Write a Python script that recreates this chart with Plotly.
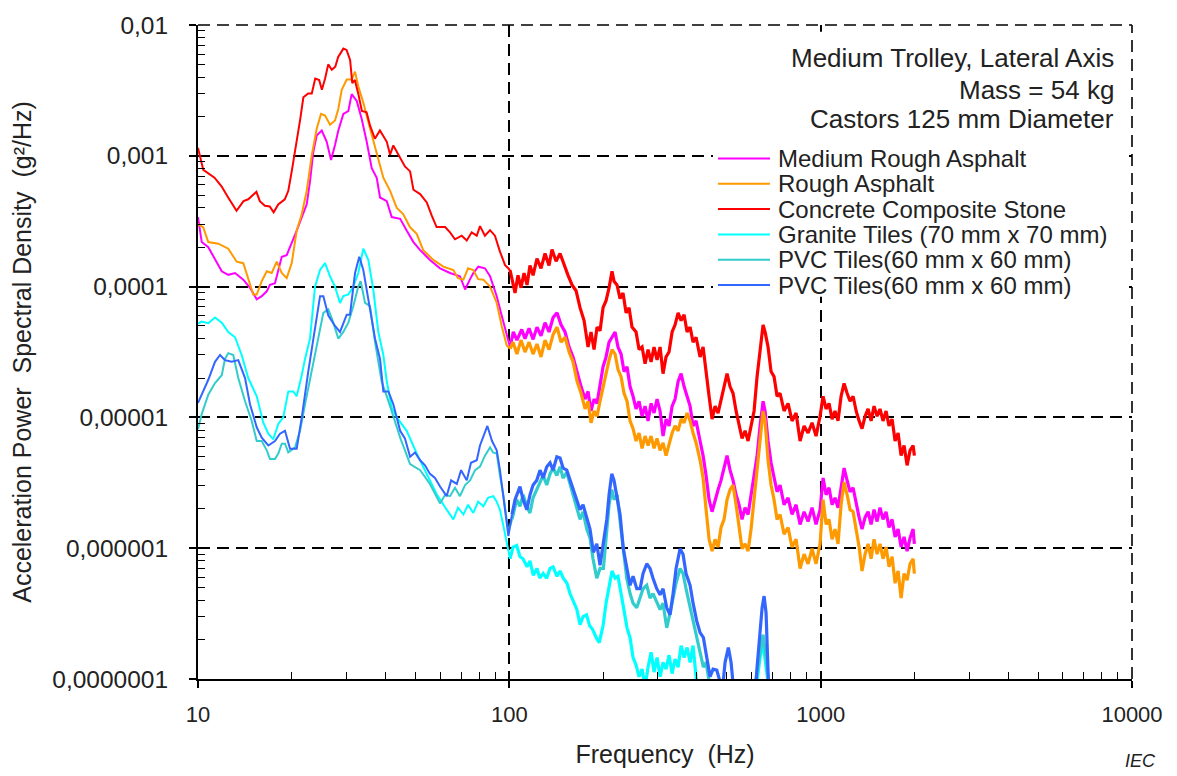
import plotly.graph_objects as go

# ---------------- data (frequency in Hz, PSD in g^2/Hz) ----------------
names = ["Medium Rough Asphalt", "Rough Asphalt", "Concrete Composite Stone",
         "Granite Tiles (70 mm x 70 mm)", "PVC Tiles(60 mm x 60 mm)", "PVC Tiles(60 mm x 60 mm)"]

f_med = [10, 10.28, 10.79, 11.34, 11.92, 12.51, 13.15, 13.98, 14.69, 15.44,
         16.02, 16.63, 17.03, 17.67, 18.58, 19.27, 20.0, 20.75, 21.54, 22.35,
         22.9, 23.46, 24.06, 24.97, 25.91, 26.75, 27.55, 28.23, 29.3, 30.4,
         31.16, 32.35, 33.56, 34.83, 36.14, 37.5, 38.43, 40.4, 41.9, 44.6,
         46.8, 49.2, 51.7, 55.6, 59.9, 64.5, 69.4, 72.1, 74.8, 76.6,
         79.5, 83.5, 86.7, 91.1, 94.5, 98.1, 100.5, 103.0, 105.8, 109.6,
         112.3, 115.7, 119.2, 122.7, 126.4, 130.2, 134.1, 138.2, 142.3, 146.6,
         151.0, 155.6, 160.2, 165.1, 170.0, 175.1, 179.0, 183.0, 187.1, 191.3,
         195.6, 200.0, 204.5, 209.1, 213.7, 218.6, 223.4, 228.5, 233.6, 238.8,
         244.2, 249.7, 255.3, 261.0, 266.9, 272.9, 279.0, 285.3, 291.6, 298.2,
         304.9, 311.7, 318.7, 325.8, 333.3, 340.7, 348.4, 356.2, 364.2, 372.3,
         380.7, 389.2, 397.9, 409.9, 419.1, 428.5, 438.1, 447.9, 458.0, 468.2,
         478.6, 489.4, 500.4, 511.6, 523.1, 534.9, 546.8, 559.1, 571.7, 584.6,
         597.6, 611.1, 624.8, 638.9, 653.1, 662.9, 677.7, 692.9, 708.4, 724.3,
         740.6, 762.8, 785.7, 809.3, 833.7, 858.7, 884.6, 911.0, 938.5, 966.5,
         995.6, 1018, 1041, 1064, 1088, 1112, 1137, 1163, 1189, 1216,
         1243, 1271, 1300, 1329, 1358, 1389, 1420, 1452, 1484, 1518,
         1551, 1586, 1622, 1658, 1696, 1734, 1773, 1813, 1853, 1895,
         1937, 1981, 2000]
psd_med = [3.4e-4, 2.19e-4, 2.0e-4, 1.6e-4, 1.31e-4, 1.23e-4, 1.27e-4, 1.13e-4, 9.8e-5, 8.0e-5,
           8.45e-5, 9.2e-5, 1.03e-4, 1.06e-4, 1.69e-4, 1.74e-4, 2.13e-4, 2.68e-4, 3.38e-4, 4.26e-4,
           6.4e-4, 1.07e-3, 1.43e-3, 1.56e-3, 1.28e-3, 9.3e-4, 1.21e-3, 1.56e-3, 2.09e-3, 2.2e-3,
           2.96e-3, 2.63e-3, 1.91e-3, 1.28e-3, 8.05e-4, 6.8e-4, 4.8e-4, 4.5e-4, 3.4e-4, 3.3e-4,
           2.68e-4, 2.19e-4, 1.9e-4, 1.6e-4, 1.38e-4, 1.27e-4, 1.2e-4, 9.5e-5, 1.14e-4, 1.27e-4,
           1.42e-4, 1.38e-4, 1.2e-4, 8.45e-5, 6.0e-5, 4.2e-5, 3.45e-5, 4.5e-5, 3.9e-5, 4.7e-5,
           4.0e-5, 4.8e-5, 3.95e-5, 4.9e-5, 4.2e-5, 5.3e-5, 4.5e-5, 5.8e-5, 6.3e-5, 5.1e-5,
           4.5e-5, 3.45e-5, 2.9e-5, 2.16e-5, 1.72e-5, 1.38e-5, 1.58e-5, 1.12e-5, 1.38e-5, 1.28e-5,
           1.72e-5, 2.44e-5, 2.9e-5, 3.76e-5, 4.1e-5, 4.5e-5, 3.45e-5, 3.05e-5, 2.24e-5, 2.44e-5,
           1.72e-5, 1.45e-5, 1.16e-5, 1.33e-5, 1.02e-5, 1.22e-5, 9.4e-6, 1.28e-5, 1.08e-5, 1.38e-5,
           1.12e-5, 7.2e-6, 9.7e-6, 8.6e-6, 1.22e-5, 1.38e-5, 1.88e-5, 2.16e-5, 1.72e-5, 1.45e-5,
           1.22e-5, 8.6e-6, 9.4e-6, 6.6e-6, 5.1e-6, 3.6e-6, 2.35e-6, 1.9e-6, 2.35e-6, 2.8e-6,
           3.3e-6, 4.1e-6, 5.1e-6, 3.95e-6, 3.3e-6, 2.56e-6, 2.15e-6, 1.66e-6, 2.04e-6, 1.81e-6,
           2.56e-6, 3.44e-6, 5.1e-6, 8.6e-6, 1.33e-5, 1.12e-5, 6.6e-6, 4.5e-6, 3.44e-6, 2.7e-6,
           3.04e-6, 2.15e-6, 2.43e-6, 1.81e-6, 2.15e-6, 1.52e-6, 1.9e-6, 1.6e-6, 2.04e-6, 1.52e-6,
           1.97e-6, 3.44e-6, 2.56e-6, 2.9e-6, 2.15e-6, 2.43e-6, 2.04e-6, 3.04e-6, 4.1e-6, 3.3e-6,
           2.7e-6, 2.9e-6, 2.15e-6, 1.72e-6, 1.4e-6, 1.72e-6, 1.9e-6, 1.52e-6, 1.97e-6, 1.6e-6,
           2.04e-6, 1.66e-6, 1.9e-6, 1.44e-6, 1.66e-6, 1.22e-6, 1.4e-6, 1.02e-6, 1.22e-6, 9.5e-7,
           1.2e-6, 1.4e-6, 1.08e-6]

f_rough = [10, 10.4, 10.79, 11.62, 12.51, 13.31, 13.98, 14.69, 15.05, 15.44,
           16.02, 16.63, 17.25, 17.9, 18.58, 19.27, 20.0, 20.75, 21.54, 22.35,
           23.2, 24.06, 24.84, 25.59, 26.55, 27.55, 28.23, 28.95, 30.04, 31.16,
           31.94, 32.72, 33.96, 35.24, 36.56, 37.5, 38.43, 39.38, 41.4, 43.5,
           45.6, 48.0, 50.4, 52.9, 57.0, 61.4, 66.1, 68.4, 71.2, 73.7,
           76.6, 79.4, 82.5, 86.7, 91.1, 94.5, 98.1, 100.5, 102.8, 105.8,
           109.0, 112.3, 115.7, 119.2, 122.7, 126.4, 130.2, 134.1, 138.2, 142.3,
           146.6, 151.0, 155.6, 160.2, 165.1, 170.0, 175.1, 179.0, 183.0, 187.1,
           191.3, 195.6, 200.0, 204.5, 209.1, 213.7, 218.6, 223.4, 228.5, 233.6,
           238.8, 244.2, 249.7, 255.3, 261.0, 266.9, 272.9, 279.0, 285.3, 291.6,
           298.2, 304.9, 311.7, 318.7, 325.8, 333.3, 340.7, 348.4, 356.2, 364.2,
           372.3, 380.7, 389.2, 397.9, 409.9, 419.1, 428.5, 438.1, 447.9, 458.0,
           468.2, 478.6, 489.4, 500.4, 511.6, 523.1, 534.9, 546.8, 559.1, 571.7,
           584.6, 597.6, 611.1, 624.8, 638.9, 653.1, 662.9, 677.7, 692.9, 708.4,
           724.3, 740.6, 762.8, 785.7, 809.3, 833.7, 858.7, 884.6, 911.0, 938.5,
           966.5, 995.6, 1018, 1041, 1064, 1088, 1112, 1137, 1163, 1189,
           1216, 1243, 1271, 1300, 1329, 1358, 1389, 1420, 1452, 1484,
           1518, 1551, 1586, 1622, 1658, 1696, 1734, 1773, 1813, 1853,
           1895, 1937, 1981, 2000]
psd_rough = [3.0e-4, 2.84e-4, 2.19e-4, 2.13e-4, 1.95e-4, 1.55e-4, 1.51e-4, 1.07e-4, 8.7e-5, 8.7e-5,
             1.1e-4, 1.31e-4, 1.27e-4, 1.55e-4, 1.27e-4, 1.16e-4, 1.51e-4, 2.68e-4, 3.58e-4, 5.4e-4,
             1.01e-3, 1.61e-3, 2.09e-3, 2.03e-3, 1.73e-3, 1.86e-3, 2.28e-3, 3.2e-3, 3.83e-3, 3.83e-3,
             4.4e-3, 3.4e-3, 2.55e-3, 1.81e-3, 1.32e-3, 1.01e-3, 8.2e-4, 6.8e-4, 5.4e-4, 4.0e-4,
             3.58e-4, 2.84e-4, 2.53e-4, 1.9e-4, 1.6e-4, 1.42e-4, 1.34e-4, 1.16e-4, 1.13e-4, 1.38e-4,
             1.34e-4, 1.14e-4, 1.13e-4, 1.0e-4, 7.5e-5, 5.0e-5, 3.55e-5, 3.35e-5, 3.76e-5, 3.05e-5,
             3.9e-5, 3.16e-5, 3.76e-5, 3.05e-5, 3.64e-5, 2.9e-5, 3.9e-5, 3.3e-5, 4.3e-5, 4.9e-5,
             3.76e-5, 4.1e-5, 3.16e-5, 2.66e-5, 1.88e-5, 1.53e-5, 1.16e-5, 1.33e-5, 9.1e-6, 1.12e-5,
             1.02e-5, 1.33e-5, 1.72e-5, 2.16e-5, 2.75e-5, 3.3e-5, 3.05e-5, 2.32e-5, 2.05e-5, 1.53e-5,
             1.33e-5, 9.4e-6, 8.2e-6, 6.6e-6, 7.6e-6, 5.8e-6, 7.2e-6, 6.1e-6, 7.2e-6, 5.8e-6,
             6.9e-6, 5.6e-6, 6.4e-6, 5.1e-6, 6.1e-6, 7.6e-6, 8.6e-6, 7.9e-6, 9.7e-6, 9.1e-6,
             1.08e-5, 9.4e-6, 7.6e-6, 6.4e-6, 4.7e-6, 3.44e-6, 1.97e-6, 1.17e-6, 9.5e-7, 1.17e-6,
             1.02e-6, 1.44e-6, 1.66e-6, 2.35e-6, 2.8e-6, 3.04e-6, 2.15e-6, 1.4e-6, 9.9e-7, 1.08e-6,
             9.5e-7, 1.4e-6, 2.35e-6, 3.95e-6, 7.2e-6, 1.12e-5, 9.4e-6, 4.7e-6, 3.04e-6, 2.35e-6,
             1.66e-6, 1.81e-6, 1.28e-6, 1.44e-6, 1.02e-6, 1.17e-6, 7.0e-7, 9.0e-7, 7.6e-7, 9.9e-7,
             7.6e-7, 1.08e-6, 2.35e-6, 1.52e-6, 1.66e-6, 1.17e-6, 1.4e-6, 1.08e-6, 2.15e-6, 3.2e-6,
             2.56e-6, 1.97e-6, 1.9e-6, 1.4e-6, 1.02e-6, 6.7e-7, 9.0e-7, 1.08e-6, 8.3e-7, 1.17e-6,
             9.0e-7, 1.08e-6, 8.3e-7, 1.02e-6, 7.2e-7, 8.6e-7, 5.4e-7, 6.7e-7, 4.15e-7, 6.4e-7,
             5.7e-7, 7.6e-7, 8.3e-7, 6.4e-7]

f_conc = [10, 10.4, 11.3, 11.9, 12.5, 13.3, 14.0, 14.5, 15.4, 15.8,
          16.4, 17.0, 17.5, 18.1, 19.0, 19.5, 20.0, 20.5, 21.3, 21.8,
          22.6, 23.2, 23.8, 24.5, 25.0, 25.6, 26.2, 26.9, 27.6, 28.2,
          29.3, 30.0, 30.8, 31.3, 31.9, 32.7, 33.6, 34.8, 35.7, 37.0,
          38.4, 40.4, 41.4, 42.4, 44.6, 46.2, 48.0, 49.2, 51.7, 54.3,
          56.3, 58.4, 62.2, 64.5, 66.9, 70.3, 73.0, 75.7, 78.6, 80.5,
          83.5, 86.7, 89.9, 93.3, 96.9, 100.5, 102.8, 104.3, 106.6, 109.0,
          111.5, 114.0, 116.5, 119.2, 122.7, 126.4, 130.2, 134.1, 137.1, 141.3,
          145.5, 149.9, 154.4, 159.0, 163.8, 168.7, 173.8, 179.0, 183.0, 187.1,
          191.3, 195.6, 200.0, 204.5, 209.1, 213.7, 216.9, 221.8, 226.8, 231.8,
          237.1, 242.4, 247.8, 255.3, 261.0, 266.9, 272.9, 279.0, 285.3, 291.6,
          298.2, 304.9, 311.7, 318.7, 325.8, 333.3, 340.7, 348.4, 356.2, 364.2,
          372.3, 380.7, 389.2, 397.9, 409.9, 419.1, 428.5, 438.1, 447.9, 458.0,
          468.2, 478.6, 489.4, 500.4, 511.6, 523.1, 534.9, 546.8, 559.1, 571.7,
          584.6, 597.6, 611.1, 624.8, 638.9, 653.1, 662.9, 677.7, 692.9, 708.4,
          724.3, 740.6, 762.8, 785.7, 809.3, 833.7, 858.7, 884.6, 911.0, 938.5,
          966.5, 995.6, 1018, 1041, 1064, 1088, 1112, 1137, 1163, 1189,
          1216, 1243, 1271, 1300, 1329, 1358, 1389, 1420, 1452, 1484,
          1518, 1551, 1586, 1622, 1658, 1696, 1734, 1773, 1813, 1853,
          1895, 1937, 1981, 2000]
psd_conc = [1.15e-3, 7.8e-4, 6.8e-4, 5.85e-4, 4.8e-4, 3.8e-4, 4.5e-4, 4.65e-4, 5.3e-4, 4.5e-4,
            4.15e-4, 4.1e-4, 3.7e-4, 4.25e-4, 4.65e-4, 5.4e-4, 7.6e-4, 1.07e-3, 1.91e-3, 2.8e-3,
            3.0e-3, 3.0e-3, 3.9e-3, 3.8e-3, 3.2e-3, 3.9e-3, 5.0e-3, 4.55e-3, 4.8e-3, 5.7e-3,
            6.6e-3, 6.45e-3, 5.4e-3, 3.6e-3, 3.8e-3, 3.0e-3, 2.2e-3, 2.15e-3, 1.7e-3, 1.35e-3,
            1.56e-3, 1.28e-3, 1.02e-3, 1.2e-3, 9.6e-4, 8.3e-4, 7.6e-4, 5.5e-4, 5.1e-4, 4.4e-4,
            3.5e-4, 2.85e-4, 2.85e-4, 2.6e-4, 2.3e-4, 2.45e-4, 2.25e-4, 2.6e-4, 2.45e-4, 2.9e-4,
            2.45e-4, 2.7e-4, 2.45e-4, 1.85e-4, 1.46e-4, 1.34e-4, 1.07e-4, 8.95e-5, 1.22e-4, 9.8e-5,
            1.27e-4, 1.03e-4, 1.45e-4, 1.22e-4, 1.64e-4, 1.38e-4, 1.79e-4, 1.45e-4, 1.92e-4, 1.56e-4,
            1.79e-4, 1.45e-4, 1.22e-4, 1.03e-4, 9.3e-5, 6.9e-5, 5.5e-5, 3.45e-5, 4.5e-5, 3.3e-5,
            4.9e-5, 4.6e-5, 6.9e-5, 7.8e-5, 9.8e-5, 1.31e-4, 1.1e-4, 1.03e-4, 8.1e-5, 8.95e-5,
            6.3e-5, 6.9e-5, 4.9e-5, 4.5e-5, 3.3e-5, 3.45e-5, 2.57e-5, 3.3e-5, 2.66e-5, 3.45e-5,
            2.75e-5, 3.45e-5, 2.16e-5, 2.9e-5, 3.16e-5, 4.5e-5, 5.1e-5, 6.3e-5, 5.5e-5, 6.1e-5,
            4.5e-5, 4.9e-5, 3.76e-5, 4.1e-5, 2.9e-5, 3.45e-5, 2.16e-5, 1.45e-5, 9.7e-6, 1.22e-5,
            1.08e-5, 1.38e-5, 1.72e-5, 2.16e-5, 1.72e-5, 1.53e-5, 1.12e-5, 8.6e-6, 6.9e-6, 7.9e-6,
            6.6e-6, 8.6e-6, 1.12e-5, 2.05e-5, 3.45e-5, 5.1e-5, 4.5e-5, 3.45e-5, 2.24e-5, 2.05e-5,
            1.45e-5, 1.53e-5, 1.12e-5, 1.28e-5, 9.4e-6, 1.08e-5, 6.6e-6, 8.6e-6, 7.6e-6, 9.1e-6,
            7.2e-6, 1.02e-5, 1.45e-5, 1.16e-5, 1.28e-5, 9.7e-6, 1.12e-5, 9.4e-6, 1.45e-5, 1.82e-5,
            1.53e-5, 1.33e-5, 1.45e-5, 1.12e-5, 9.4e-6, 8.2e-6, 1.02e-5, 1.16e-5, 9.4e-6, 1.22e-5,
            1.02e-5, 1.16e-5, 9.4e-6, 1.12e-5, 8.6e-6, 9.7e-6, 6.6e-6, 7.6e-6, 5.1e-6, 6.1e-6,
            4.3e-6, 5.6e-6, 6.1e-6, 5.1e-6]

f_gran = [10, 10.28, 10.79, 11.34, 11.92, 12.51, 13.15, 13.81, 14.5, 15.44,
          16.21, 16.82, 17.45, 18.11, 18.79, 19.5, 20.24, 20.75, 21.54, 22.07,
          22.9, 23.76, 24.66, 25.59, 26.55, 27.55, 28.58, 29.3, 30.4, 31.55,
          32.72, 33.96, 35.24, 36.56, 37.95, 39.38, 40.4, 41.9, 43.5, 46.8,
          50.4, 54.3, 58.4, 62.9, 66.1, 68.4, 71.2, 73.7, 76.6, 79.4,
          82.5, 85.4, 88.8, 91.1, 93.3, 95.5, 98.1, 100.5, 102.8, 105.6,
          108.2, 110.7, 114.0, 116.5, 119.4, 122.7, 125.3, 128.4, 131.8, 135.1,
          138.2, 142.3, 145.5, 149.0, 153.2, 156.6, 160.4, 164.8, 168.7, 172.5,
          177.0, 181.1, 185.1, 190.2, 194.5, 200.0, 204.5, 209.1, 213.7, 218.6,
          223.4, 228.5, 233.6, 238.8, 244.2, 249.7, 255.3, 261.0, 266.9, 272.9,
          279.0, 285.3, 291.6, 298.2, 304.9, 311.7, 318.7, 325.8, 333.3, 340.7,
          348.4, 356.2, 364.2, 372.3, 380.7, 389.2, 397.9, 406.7, 419.1, 441.3,
          551, 615, 638.9, 653.1, 667.8, 688, 740.6]
psd_gran = [5.2e-5, 5.4e-5, 5.25e-5, 5.8e-5, 5.3e-5, 4.5e-5, 4.1e-5, 3.0e-5, 2.0e-5, 1.45e-5,
            9.1e-6, 7.5e-6, 6.8e-6, 8.9e-6, 1.0e-5, 1.58e-5, 1.58e-5, 1.45e-5, 2.1e-5, 2.8e-5,
            4.0e-5, 1.0e-4, 1.34e-4, 1.51e-4, 1.2e-4, 1.0e-4, 7.5e-5, 8.45e-5, 8.7e-5, 1.0e-4,
            1.27e-4, 1.95e-4, 1.6e-4, 9.5e-5, 4.5e-5, 3.0e-5, 1.88e-5, 1.18e-5, 1.0e-5, 7.9e-6,
            5.3e-6, 3.7e-6, 2.6e-6, 1.97e-6, 1.66e-6, 2.04e-6, 1.81e-6, 2.15e-6, 1.86e-6, 2.27e-6,
            2.09e-6, 2.43e-6, 2.5e-6, 2.27e-6, 1.97e-6, 1.52e-6, 1.1e-6, 8.3e-7, 1.02e-6, 1.05e-6,
            8.6e-7, 8.3e-7, 7.2e-7, 8.0e-7, 6.2e-7, 7.0e-7, 5.9e-7, 6.4e-7, 5.9e-7, 7.0e-7,
            7.2e-7, 6.1e-7, 6.7e-7, 5.9e-7, 5.4e-7, 4.5e-7, 3.9e-7, 3.4e-7, 2.6e-7, 3.0e-7,
            3.1e-7, 2.55e-7, 2.4e-7, 2.07e-7, 1.9e-7, 2.55e-7, 3.8e-7, 4.9e-7, 6.7e-7, 5.9e-7,
            6.1e-7, 4.5e-7, 3.2e-7, 2.46e-7, 2.07e-7, 1.46e-7, 1.28e-7, 1.04e-7, 1.19e-7, 8.7e-8,
            1.23e-7, 1.6e-7, 1.13e-7, 1.46e-7, 1.04e-7, 1.34e-7, 1.19e-7, 1.52e-7, 1.1e-7, 1.42e-7,
            1.23e-7, 1.8e-7, 1.46e-7, 1.74e-7, 1.34e-7, 1.8e-7, 1.04e-7, 8.0e-8, 7.3e-8, 6.1e-8,
            5.2e-8, 7.3e-8, 1.46e-7, 1.9e-7, 1.23e-7, 7.3e-8, 5.2e-8]

f_pvc1 = [10, 10.28, 10.79, 11.34, 11.92, 12.21, 12.51, 12.98, 13.47, 14.16,
          14.88, 15.44, 16.02, 16.63, 17.03, 17.67, 18.11, 18.58, 19.03, 19.5,
          20.5, 21.27, 22.07, 23.2, 24.35, 25.27, 26.22, 27.2, 28.23, 29.3,
          30.4, 31.55, 32.72, 33.31, 34.4, 35.69, 37.04, 38.9, 40.9, 42.4,
          44.6, 48.0, 51.7, 55.6, 59.9, 62.2, 64.5, 66.9, 69.4, 72.1,
          74.8, 77.6, 80.5, 83.5, 86.7, 88.6, 91.1, 93.3, 95.8, 99.3,
          102.0, 105.6, 108.2, 110.7, 113.8, 116.5, 119.2, 122.4, 125.5, 128.4,
          131.9, 135.1, 138.2, 142.1, 145.5, 148.8, 152.9, 156.7, 160.2, 164.6,
          168.7, 172.5, 177.3, 181.6, 185.7, 190.9, 195.6, 200.5, 205.6, 209.1,
          213.3, 216.9, 221.8, 226.8, 231.8, 238.3, 244.2, 249.7, 256.6, 263.0,
          268.9, 276.3, 283.1, 289.4, 297.5, 304.9, 311.7, 320.3, 328.3, 335.7,
          343.2, 353.5, 361.4, 369.5, 380.7, 389.2, 400.0, 409.9, 420.1, 428.5,
          441.3, 458.0, 551, 615, 638.9, 653.1, 667.8, 688]
psd_pvc1 = [8.1e-6, 1.06e-5, 1.49e-5, 1.83e-5, 2.1e-5, 2.8e-5, 3.1e-5, 3.0e-5, 2.0e-5, 1.33e-5,
            9.4e-6, 6.6e-6, 6.6e-6, 5.6e-6, 4.8e-6, 4.8e-6, 5.3e-6, 6.3e-6, 6.3e-6, 5.4e-6,
            5.9e-6, 7.9e-6, 1.26e-5, 2.24e-5, 4.0e-5, 6.3e-5, 6.7e-5, 5.3e-5, 4.0e-5, 4.5e-5,
            5.3e-5, 7.1e-5, 1.0e-4, 1.1e-4, 7.5e-5, 7.1e-5, 3.76e-5, 1.88e-5, 1.33e-5, 1.0e-5,
            7.0e-6, 4.4e-6, 3.95e-6, 3.1e-6, 2.2e-6, 2.56e-6, 2.5e-6, 2.9e-6, 2.5e-6, 3.04e-6,
            3.3e-6, 3.95e-6, 4.2e-6, 5.1e-6, 5.9e-6, 5.4e-6, 5.3e-6, 3.6e-6, 2.5e-6, 1.32e-6,
            1.66e-6, 2.35e-6, 2.09e-6, 2.56e-6, 2.09e-6, 1.86e-6, 2.43e-6, 2.8e-6, 3.1e-6, 3.6e-6,
            3.04e-6, 3.7e-6, 4.1e-6, 3.6e-6, 4.2e-6, 3.44e-6, 3.8e-6, 3.1e-6, 2.56e-6, 2.04e-6,
            1.66e-6, 1.9e-6, 1.4e-6, 1.2e-6, 8.3e-7, 5.9e-7, 7.0e-7, 7.0e-7, 1.4e-6, 2.15e-6,
            2.8e-6, 2.35e-6, 2.56e-6, 1.66e-6, 1.08e-6, 5.9e-7, 4.5e-7, 3.8e-7, 3.5e-7, 4.15e-7,
            4.9e-7, 5.2e-7, 4.15e-7, 4.5e-7, 3.9e-7, 3.4e-7, 3.8e-7, 2.46e-7, 3.2e-7, 4.15e-7,
            5.4e-7, 7.0e-7, 6.4e-7, 4.9e-7, 3.5e-7, 2.7e-7, 2.07e-7, 1.6e-7, 1.23e-7, 1.34e-7,
            8.7e-8, 6.1e-8, 5.2e-8, 8.7e-8, 1.6e-7, 2.18e-7, 1.46e-7, 7.3e-8]

f_pvc2 = [10, 10.28, 10.79, 11.34, 11.77, 12.21, 12.83, 13.47, 14.16, 14.69,
          15.44, 16.02, 16.82, 17.67, 18.34, 19.03, 19.75, 20.75, 21.54, 22.6,
          23.76, 24.66, 25.27, 26.22, 27.55, 28.58, 30.04, 30.78, 31.94, 32.97,
          33.96, 35.24, 37.04, 38.43, 39.38, 40.9, 42.4, 44.6, 46.2, 48.0,
          49.8, 51.7, 53.6, 55.6, 57.7, 59.9, 62.9, 65.0, 67.8, 70.0,
          73.0, 75.3, 78.6, 80.5, 83.5, 85.0, 88.0, 91.1, 93.3, 95.8,
          99.3, 102.0, 104.3, 108.2, 110.7, 113.8, 116.5, 119.2, 122.4, 125.5,
          128.4, 131.9, 135.1, 138.2, 142.1, 145.5, 148.8, 152.9, 156.7, 160.2,
          164.6, 168.7, 172.5, 177.3, 181.6, 186.2, 190.9, 195.6, 200.5, 205.6,
          209.1, 213.3, 216.9, 221.3, 226.8, 232.3, 238.3, 244.2, 249.7, 256.6,
          263.0, 268.9, 276.3, 283.1, 289.4, 297.5, 304.9, 311.7, 320.3, 328.3,
          335.7, 343.2, 353.5, 361.4, 369.5, 380.7, 389.2, 400.0, 409.9, 420.1,
          430.7, 441.3, 451.2, 463.7, 475.2, 486.9, 493.1, 505.3, 515.5, 524.4,
          551, 615, 624.8, 638.9, 648.4, 658.1, 667.8, 679.2, 698.2]
psd_pvc2 = [1.29e-5, 1.49e-5, 1.94e-5, 2.66e-5, 3.0e-5, 2.74e-5, 2.66e-5, 2.74e-5, 2.0e-5, 1.26e-5,
            8.4e-6, 7.0e-6, 6.1e-6, 6.6e-6, 7.5e-6, 7.9e-6, 5.75e-6, 5.75e-6, 1.0e-5, 2.24e-5,
            4.7e-5, 8.45e-5, 8.45e-5, 6.0e-5, 5.0e-5, 4.5e-5, 6.1e-5, 6.1e-5, 1.27e-4, 1.69e-4,
            1.34e-4, 8.0e-5, 4.0e-5, 2.8e-5, 1.58e-5, 1.58e-5, 1.26e-5, 7.9e-6, 6.9e-6, 5.0e-6,
            5.4e-6, 4.7e-6, 4.3e-6, 3.7e-6, 3.44e-6, 2.96e-6, 2.5e-6, 3.3e-6, 3.1e-6, 3.95e-6,
            3.3e-6, 4.5e-6, 4.7e-6, 6.1e-6, 7.9e-6, 8.6e-6, 6.6e-6, 5.6e-6, 3.95e-6, 2.5e-6,
            1.24e-6, 1.81e-6, 2.35e-6, 2.96e-6, 2.35e-6, 1.97e-6, 2.56e-6, 3.04e-6, 3.3e-6, 3.95e-6,
            3.44e-6, 4.2e-6, 4.5e-6, 3.95e-6, 5.0e-6, 4.9e-6, 4.1e-6, 3.95e-6, 3.3e-6, 2.9e-6,
            2.35e-6, 1.97e-6, 2.15e-6, 1.66e-6, 1.4e-6, 9.3e-7, 1.08e-6, 7.4e-7, 1.08e-6, 1.66e-6,
            2.56e-6, 3.7e-6, 3.3e-6, 2.5e-6, 1.81e-6, 9.9e-7, 7.0e-7, 5.2e-7, 6.1e-7, 4.9e-7,
            4.9e-7, 6.4e-7, 7.6e-7, 7.0e-7, 5.9e-7, 4.9e-7, 4.4e-7, 4.9e-7, 3.5e-7, 3.1e-7,
            4.5e-7, 7.0e-7, 9.9e-7, 9.0e-7, 6.4e-7, 5.2e-7, 3.8e-7, 2.77e-7, 2.26e-7, 2.07e-7,
            1.46e-7, 1.04e-7, 1.19e-7, 1.17e-7, 9.5e-8, 9.8e-8, 1.34e-7, 1.74e-7, 1.34e-7, 8.7e-8,
            5.2e-8, 7.3e-8, 1.23e-7, 2.6e-7, 3.5e-7, 4.3e-7, 3.2e-7, 9.8e-8, 6.1e-8]

x_tickvals = [10, 100, 1000, 10000]
x_ticktext = ["10", "100", "1000", "10000"]
y_tickvals = [1e-7, 1e-6, 1e-5, 1e-4, 1e-3, 1e-2]
y_ticktext = ["0,0000001", "0,000001", "0,00001", "0,0001", "0,001", "0,01"]

info_lines = ["Medium Trolley, Lateral Axis", "Mass = 54 kg", "Castors 125 mm Diameter"]

# ---------------- styling ----------------
colors = ["#FF00FF", "#FF9900", "#FF0000", "#00FFFF", "#33CCCC", "#3366FF"]
FONT = "Liberation Sans, Arial, sans-serif"
TXT = "#222222"
DASH = "12px,7px"

series = [(f_med, psd_med), (f_rough, psd_rough), (f_conc, psd_conc),
          (f_gran, psd_gran), (f_pvc1, psd_pvc1), (f_pvc2, psd_pvc2)]

fig = go.Figure()
for (fx, fy), nm, col in zip(series, names, colors):
    # smooth low-frequency part drawn thin, noisy high-frequency part drawn heavier
    k = next(i for i, v in enumerate(fx) if v >= 100)
    fig.add_trace(go.Scatter(x=fx[:k + 1], y=fy[:k + 1], mode="lines", name=nm, legendgroup=nm,
                             line=dict(color=col, width=2), showlegend=False))
    fig.add_trace(go.Scatter(x=fx[k:], y=fy[k:], mode="lines", name=nm, legendgroup=nm,
                             line=dict(color=col, width=3.2), showlegend=False))

x_minor = [m * 10 ** k for k in range(1, 4) for m in range(2, 10)]
y_minor = [m * 10.0 ** k for k in range(-7, -2) for m in range(2, 10)]

common = dict(showgrid=True, gridcolor="black", gridwidth=1.6, griddash=DASH,
              showline=True, linecolor="black", linewidth=2,
              ticks="outside", ticklen=7, tickwidth=1.5, tickcolor="black",
              tickmode="array")

fig.update_xaxes(type="log", range=[1, 4], tickvals=x_tickvals, ticktext=x_ticktext,
                 tickfont=dict(family=FONT, size=22, color=TXT), ticklabelstandoff=8,
                 minor=dict(tickmode="array", tickvals=x_minor, ticks="inside", ticklen=7,
                            tickwidth=1.3, tickcolor="black", showgrid=False),
                 title=dict(text="Frequency\u00a0\u00a0(Hz)",
                            font=dict(family=FONT, size=25, color=TXT), standoff=19),
                 **common)
fig.update_yaxes(type="log", range=[-7, -2], tickvals=y_tickvals, ticktext=y_ticktext,
                 tickfont=dict(family=FONT, size=24.5, color=TXT), ticklabelstandoff=16,
                 minor=dict(tickmode="array", tickvals=y_minor, ticks="inside", ticklen=7,
                            tickwidth=1.3, tickcolor="black", showgrid=False),
                 title=dict(text="Acceleration Power\u00a0 Spectral Density\u00a0 (g²/Hz)",
                            font=dict(family=FONT, size=25, color=TXT), standoff=14),
                 **common)

# dashed grid lines at the top (0,01) and right (10000) edges of the plot
fig.add_shape(type="line", xref="paper", yref="paper", x0=0, x1=1, y0=1, y1=1,
              line=dict(color="black", width=1.6, dash=DASH), layer="above")
fig.add_shape(type="line", xref="paper", yref="paper", x0=1, x1=1, y0=0, y1=1,
              line=dict(color="black", width=1.6, dash=DASH), layer="above")

# white panel behind info text and legend (hides grid lines like the original)
fig.add_shape(type="rect", xref="paper", yref="paper", x0=0.5514, x1=0.9893, y0=0.5843, y1=0.9895,
              fillcolor="white", line=dict(width=0), layer="above")

# information text block (right aligned)
for line, yy in zip(info_lines, [0.9488, 0.9006, 0.8569]):
    fig.add_annotation(xref="paper", yref="paper", x=0.9829, y=yy, text=line, showarrow=False,
                       xanchor="right", yanchor="middle", align="right",
                       font=dict(family=FONT, size=26, color=TXT))

# legend drawn as line samples + text
row0, step = 0.7959, 0.0387
for i, (nm, col) in enumerate(zip(names, colors)):
    yy = row0 - i * step
    fig.add_shape(type="line", xref="paper", yref="paper", x0=0.5567, x1=0.6124, y0=yy, y1=yy,
                  line=dict(color=col, width=2), layer="above")
    fig.add_annotation(xref="paper", yref="paper", x=0.6188, y=yy, text=nm, showarrow=False,
                       xanchor="left", yanchor="middle",
                       font=dict(family=FONT, size=24, color=TXT))

fig.add_annotation(xref="paper", yref="paper", x=1.0086, y=-0.125, text="<i>IEC</i>",
                   showarrow=False, xanchor="center", yanchor="middle",
                   font=dict(family=FONT, size=18, color=TXT))

fig.update_layout(width=1177, height=776, margin=dict(l=198, r=45, t=18, b=94),
                  plot_bgcolor="white", paper_bgcolor="white",
                  font=dict(family=FONT, color=TXT), showlegend=False)

fig.write_html("out.html", config={"displayModeBar": False},
               post_script="document.body.style.margin='0';")
